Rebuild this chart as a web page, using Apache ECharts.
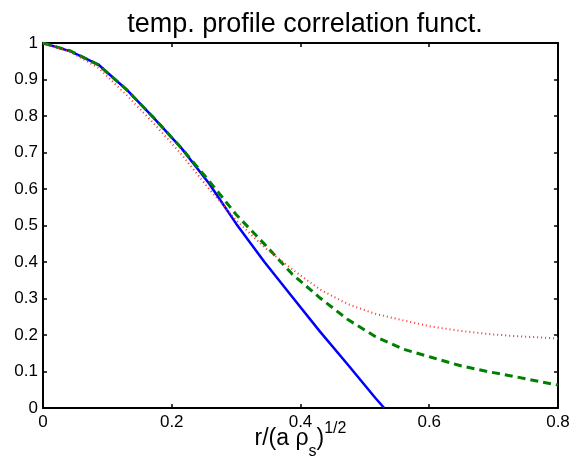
<!DOCTYPE html>
<html>
<head>
<meta charset="utf-8">
<script src="https://cdn.jsdelivr.net/npm/echarts@6/dist/echarts.min.js"></script>
<style>
  html, body { margin: 0; padding: 0; background: #fff; }
  #chart { width: 579px; height: 457px; }
</style>
</head>
<body>
<div id="chart"></div>
<script>
// r values (x) of the sampled profiles
var rBlue = [0, 0.043, 0.086, 0.13, 0.172, 0.215, 0.258, 0.3, 0.344, 0.387, 0.43, 0.473, 0.516, 0.53];
var blueVals = [1.0, 0.977, 0.941, 0.872, 0.795, 0.712, 0.615, 0.505, 0.40, 0.305, 0.21, 0.12, 0.028, 0];

var rVals = [0, 0.043, 0.086, 0.13, 0.172, 0.215, 0.258, 0.3, 0.344, 0.387, 0.43, 0.473, 0.516, 0.56, 0.603, 0.646, 0.69, 0.733, 0.776, 0.8];
var greenVals = [1.0, 0.978, 0.94, 0.872, 0.795, 0.712, 0.622, 0.53, 0.449, 0.367, 0.302, 0.243, 0.196, 0.161, 0.139, 0.117, 0.1, 0.086, 0.071, 0.063];
var redVals = [1.0, 0.975, 0.932, 0.857, 0.78, 0.695, 0.6, 0.515, 0.44, 0.38, 0.325, 0.285, 0.258, 0.24, 0.223, 0.212, 0.203, 0.197, 0.193, 0.19];

var xTicks = [0, 0.2, 0.4, 0.6, 0.8];
var yTicks = [0, 0.1, 0.2, 0.3, 0.4, 0.5, 0.6, 0.7, 0.8, 0.9, 1];

function pairs(xs, ys) {
    var out = [];
    for (var i = 0; i < xs.length; i++) {
        out.push([xs[i], ys[i]]);
    }
    return out;
}

var font = 'Liberation Sans, Arial, Helvetica, sans-serif';
var lineStyleAxis = { color: '#000', width: 2 };

function makeX(pos, showLabel) {
    return {
        type: 'value',
        position: pos,
        min: xTicks[0],
        max: xTicks[xTicks.length - 1],
        interval: 0.2,
        axisLine: { show: true, onZero: false, lineStyle: lineStyleAxis },
        axisTick: { show: true, inside: true, length: 4, lineStyle: { color: '#000', width: 1.5 } },
        axisLabel: {
            show: showLabel,
            color: '#000',
            fontFamily: font,
            fontSize: 17,
            margin: 6,
            formatter: function (v) { return String(+v.toFixed(1)); }
        },
        splitLine: { show: false }
    };
}

function makeY(pos, showLabel) {
    return {
        type: 'value',
        position: pos,
        min: yTicks[0],
        max: yTicks[yTicks.length - 1],
        interval: 0.1,
        axisLine: { show: true, onZero: false, lineStyle: lineStyleAxis },
        axisTick: { show: true, inside: true, length: 4, lineStyle: { color: '#000', width: 1.5 } },
        axisLabel: {
            show: showLabel,
            color: '#000',
            fontFamily: font,
            fontSize: 17,
            margin: 5,
            formatter: function (v) { return String(+v.toFixed(1)); }
        },
        splitLine: { show: false }
    };
}

var xMain = makeX('bottom', true);
xMain.name = '{m|r/(a ρ}{sub|s}{m|)}{sup|1/2}';
xMain.nameLocation = 'middle';
xMain.nameGap = 10;
xMain.nameMoveOverlap = false;
xMain.nameTextStyle = {
    color: '#000',
    fontFamily: font,
    rich: {
        m: { fontSize: 23, fontFamily: font, color: '#000' },
        sub: { fontSize: 16, fontFamily: font, color: '#000', padding: [26, 0, 0, 0] },
        sup: { fontSize: 16, fontFamily: font, color: '#000', padding: [0, 0, 20, 0] }
    }
};

var option = {
    animation: false,
    backgroundColor: '#fff',
    title: {
        text: 'temp. profile correlation funct.',
        left: 300,
        top: 6,
        textAlign: 'center',
        textStyle: { color: '#000', fontFamily: font, fontSize: 27, fontWeight: 'normal' }
    },
    grid: { left: 43, right: 21, top: 43, bottom: 49, outerBoundsMode: 'none', containLabel: false },
    xAxis: [xMain, makeX('top', false)],
    yAxis: [makeY('left', true), makeY('right', false)],
    series: [{
        type: 'line',
        data: pairs(rBlue, blueVals),
        showSymbol: false,
        lineStyle: { color: '#0000ff', width: 2.5 },
        z: 2
    }, {
        type: 'line',
        data: pairs(rVals, greenVals),
        showSymbol: false,
        lineStyle: { color: '#008000', width: 3, type: [8, 5] },
        z: 3
    }, {
        type: 'line',
        data: pairs(rVals, redVals),
        showSymbol: false,
        lineStyle: { color: '#ff3030', width: 2, type: [1, 3], opacity: 1 },
        z: 4
    }]
};

var myChart = echarts.init(document.getElementById('chart'));
myChart.setOption(option);
</script>
</body>
</html>
